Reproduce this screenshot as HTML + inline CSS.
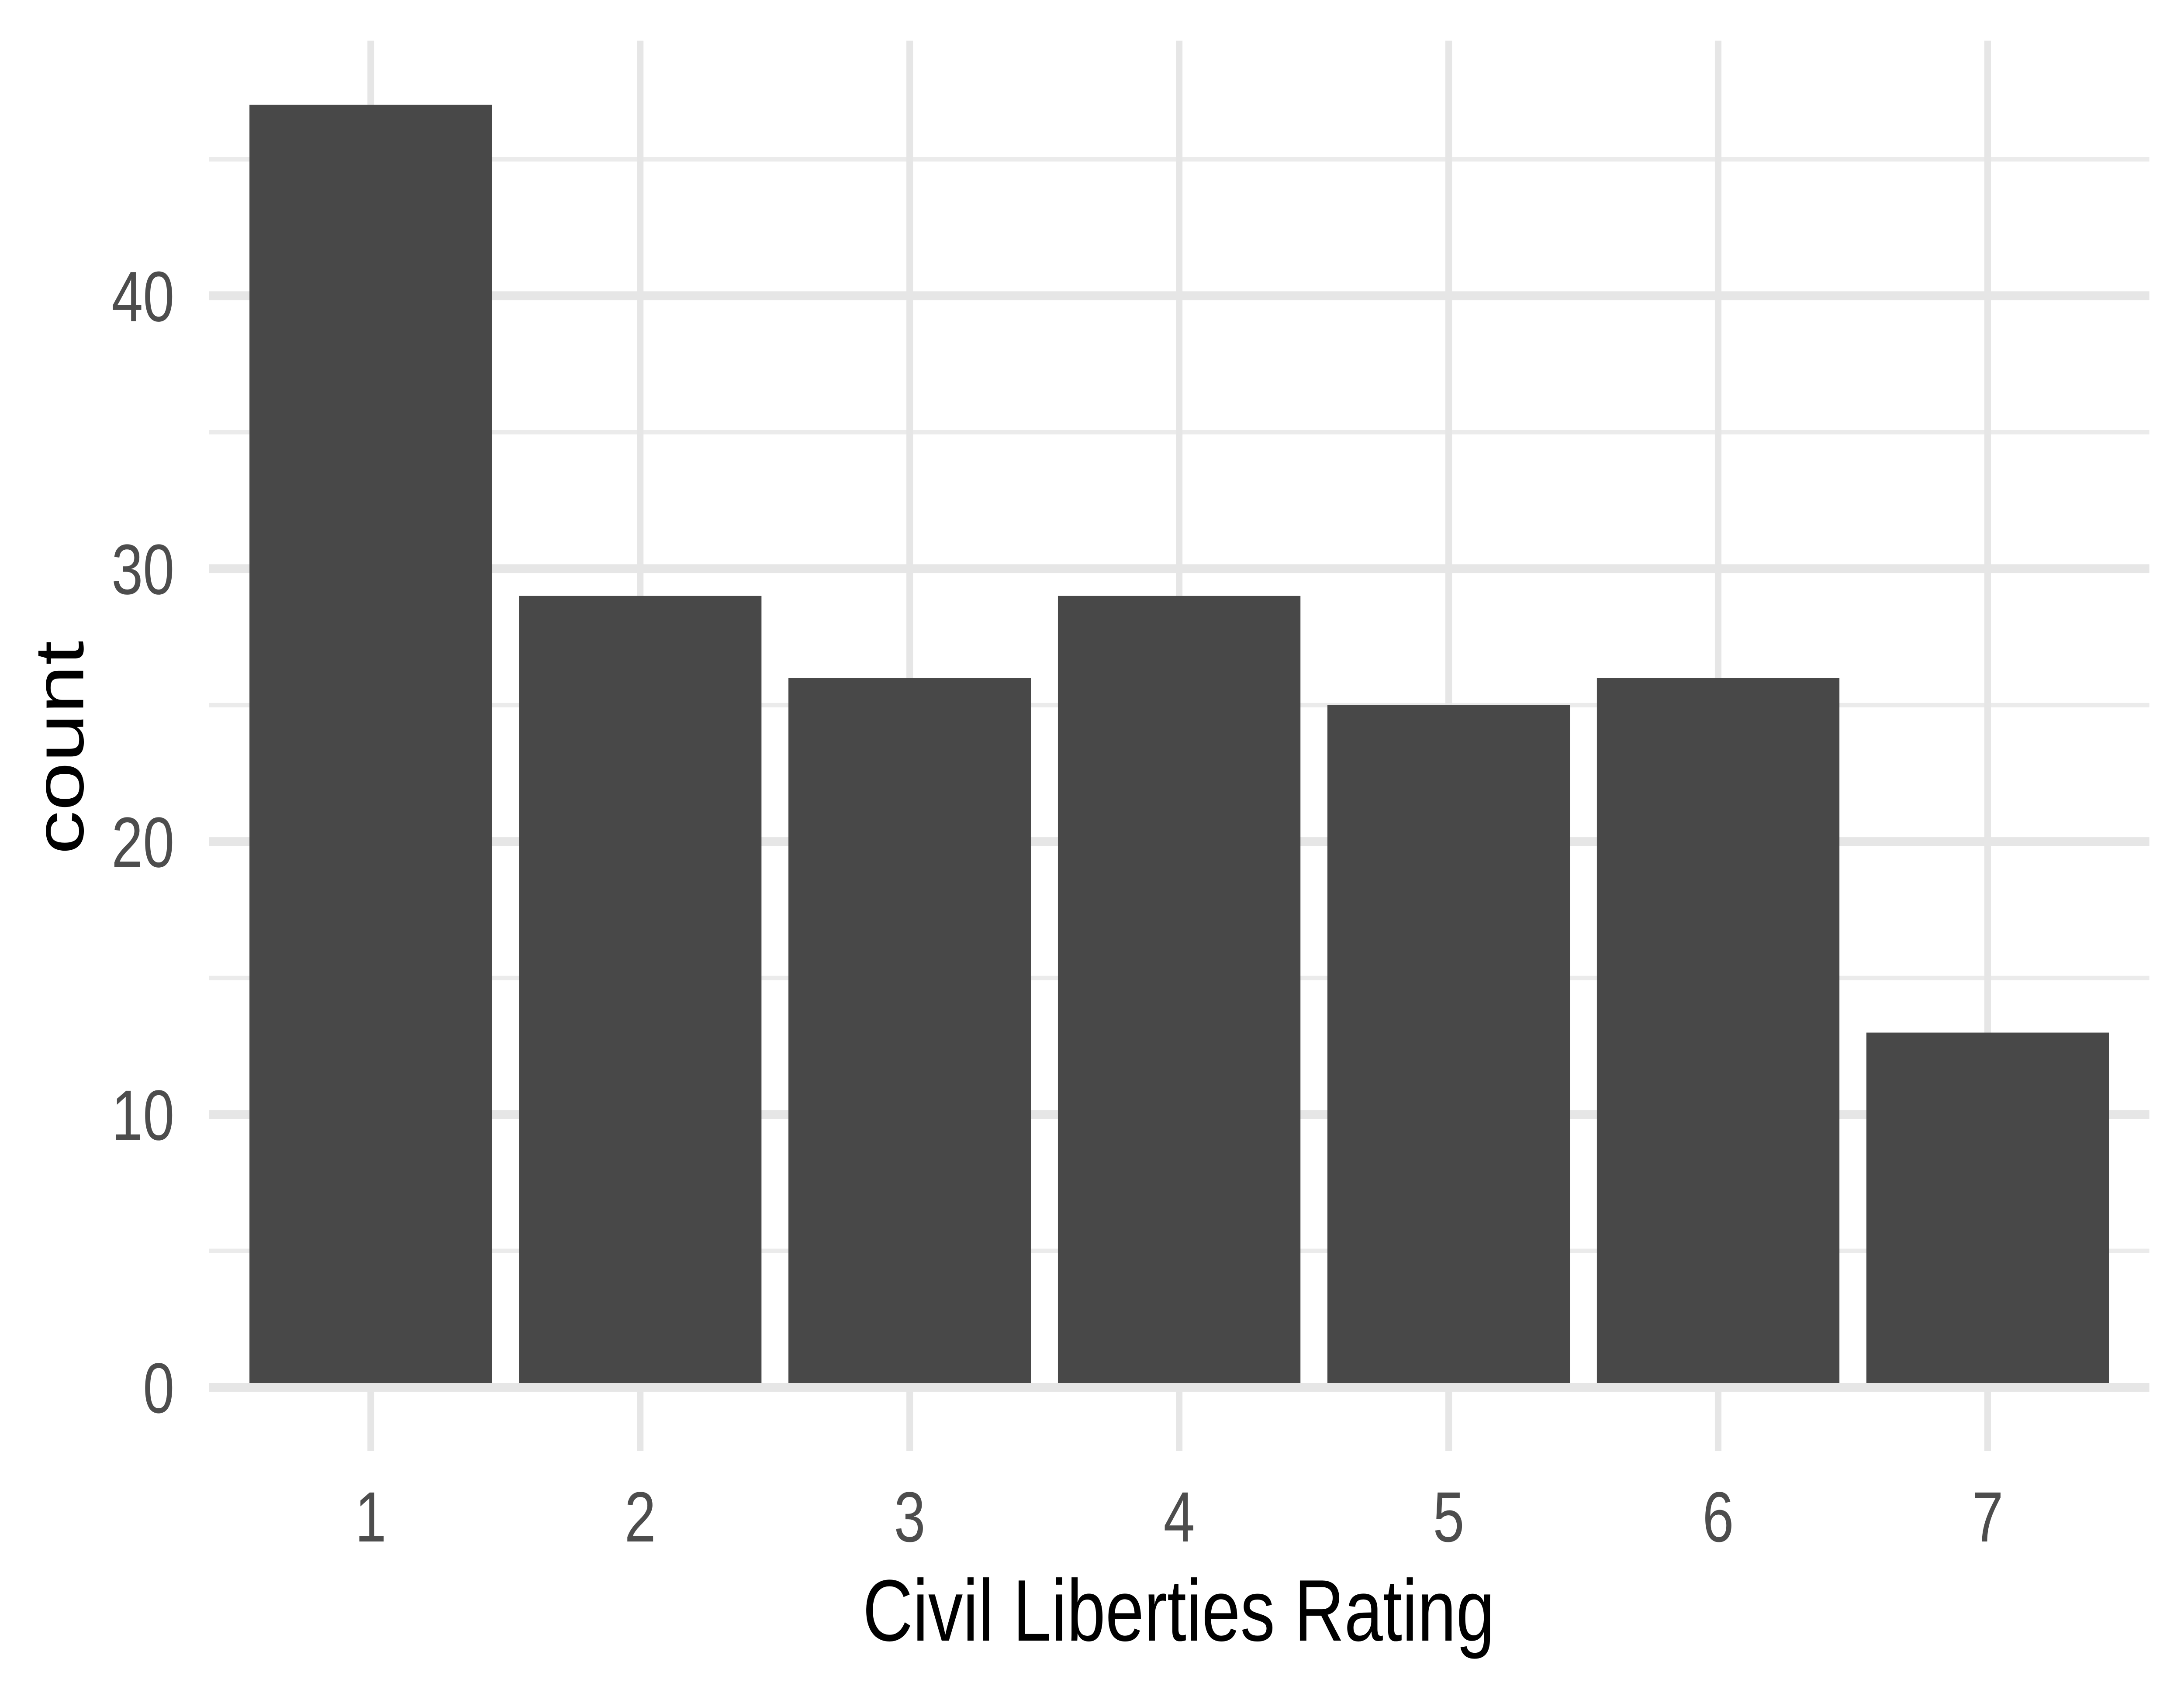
<!DOCTYPE html>
<html><head><meta charset="utf-8"><style>
html,body{margin:0;padding:0;background:#fff;overflow:hidden;width:100%;height:100%;}
svg{display:block;width:100vw;height:100vh;}
text{font-family:"Liberation Sans",Arial,sans-serif;}
</style></head><body>
<svg id="chart" viewBox="0 0 6300 3893" preserveAspectRatio="none" xmlns="http://www.w3.org/2000/svg">
<rect width="6300" height="3893" fill="#fff"/>
<g id="grid"></g>
<g id="bars"></g>
<g id="labels"></g>
<text x="3400" y="3757" text-anchor="middle" font-size="200" fill="#000">Civil Liberties Rating</text>
<text transform="translate(240,1712) rotate(-90)" text-anchor="middle" font-size="200" fill="#000">count</text>
</svg>
<script>
const categories = ["1","2","3","4","5","6","7"];
const counts = [47, 29, 26, 29, 25, 26, 13];
const yTicks = [0, 10, 20, 30, 40];
const yMinor = [5, 15, 25, 35, 45];

const NS = "http://www.w3.org/2000/svg";
const panelLeft = 603, panelRight = 6200, panelY0 = 3177, panelTop = 93;
const yMax = Math.max(...counts) * 1.05;
const step = (panelRight - panelLeft) / (categories.length + 0.2);
function xPos(i){ return panelLeft + step * (0.6 + i); }
function yPos(v){ return panelY0 - (panelY0 - panelTop) * v / yMax; }
function mk(tag, attrs, parent){
  const e = document.createElementNS(NS, tag);
  for (const k in attrs) e.setAttribute(k, attrs[k]);
  parent.appendChild(e); return e;
}
const grid = document.getElementById('grid');
const bars = document.getElementById('bars');
const labels = document.getElementById('labels');

yMinor.forEach(v => {
  if (v > yMax) return;
  const l = mk('line', {x1:panelLeft, x2:panelRight, y1:yPos(v), y2:yPos(v), stroke:'#ebebeb', 'stroke-width':10}, grid);
  
  
});
yTicks.forEach(v => {
  const l = mk('line', {x1:panelLeft, x2:panelRight, y1:yPos(v), y2:yPos(v), stroke:'#e6e6e6', 'stroke-width':20}, grid);
  
  
  const t = mk('text', {x:503, y:yPos(v)+58, 'text-anchor':'end', 'font-size':163, fill:'#4d4d4d'}, labels);
  t.textContent = v;
  
  
});
categories.forEach((c, i) => {
  const x = xPos(i);
  const l = mk('line', {x1:x, x2:x, y1:panelTop, y2:3323, stroke:'#e6e6e6', 'stroke-width':19}, grid);
  
  
  const w = step * 0.9;
  const r = mk('rect', {x:x - w/2, y:yPos(counts[i]), width:w, height:panelY0 - yPos(counts[i]) - 10, fill:'#484848'}, bars);
  
  
  const t = mk('text', {x:x, y:3530, 'text-anchor':'middle', 'font-size':163, fill:'#4d4d4d'}, labels);
  t.textContent = c;
  
  
});
</script>
</body></html>
